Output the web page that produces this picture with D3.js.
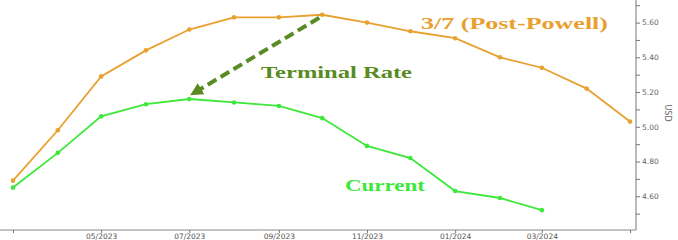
<!DOCTYPE html>
<html>
<head>
<meta charset="utf-8">
<script src="https://cdn.jsdelivr.net/npm/d3@7/dist/d3.min.js"></script>
<style>
  body { margin: 0; background: #fff; }
  svg { display: block; }
</style>
</head>
<body>
<svg width="678" height="240"></svg>
<script>
// monthly contract dates (first of month)
var months = ["2023-03", "2023-04", "2023-05", "2023-06", "2023-07", "2023-08", "2023-09",
  "2023-10", "2023-11", "2023-12", "2024-01", "2024-02", "2024-03", "2024-04", "2024-05"];
var postPowell = [4.69, 4.98, 5.29, 5.44, 5.56, 5.63, 5.63, 5.645, 5.60, 5.55, 5.51, 5.40, 5.34, 5.22, 5.03];
var current = [4.65, 4.85, 5.06, 5.13, 5.16, 5.14, 5.12, 5.05, 4.89, 4.82, 4.63, 4.59, 4.52];
var xTickLabels = ["03/2023", "05/2023", "07/2023", "09/2023", "11/2023", "01/2024", "03/2024", "05/2024"];
var yTicks = [4.5, 4.6, 4.7, 4.8, 4.9, 5.0, 5.1, 5.2, 5.3, 5.4, 5.5, 5.6, 5.7];

var parse = d3.timeParse("%Y-%m");
var parseLabel = d3.timeParse("%m/%Y");

var svg = d3.select("svg"),
    axisX = 636,
    axisY = 230;

var x = d3.scaleTime()
    .domain([parse("2023-03"), parse("2024-05")])
    .range([13, 630]);

var y = d3.scaleLinear()
    .domain([4.40, 5.73])
    .range([231, 0]);

var line = d3.line()
    .x(function (d) { return x(d.date); })
    .y(function (d) { return y(d.value); });

function toPoints(vals) {
    return vals.map(function (v, i) { return {date: parse(months[i]), value: v}; });
}

// axes
var yAxis = svg.append("g")
    .attr("transform", "translate(" + axisX + ",0)")
    .call(d3.axisRight(y).tickValues(yTicks).tickSize(4).tickPadding(2)
        .tickFormat(function (d) { return Math.round(d * 10) % 2 === 0 ? d3.format(".2f")(d) : ""; }));
yAxis.select(".domain").attr("d", "M0,0V" + axisY).attr("stroke", "#777");
yAxis.selectAll(".tick line").attr("stroke", "#777");
yAxis.selectAll(".tick text").attr("fill", "#666").style("font-family", "DejaVu Sans").style("font-size", "7.5px");

var xAxis = svg.append("g")
    .attr("transform", "translate(0," + axisY + ")")
    .call(d3.axisBottom(x).tickValues(xTickLabels.map(parseLabel)).tickSize(3).tickPadding(1)
        .tickFormat(function (d, i) { return (i === 0 || i === xTickLabels.length - 1) ? "" : xTickLabels[i]; }));
xAxis.select(".domain").attr("d", "M0,0H" + axisX).attr("stroke", "#888");
xAxis.selectAll(".tick line").attr("stroke", "#777");
xAxis.selectAll(".tick text").attr("fill", "#555").style("font-family", "DejaVu Sans").style("font-size", "7.5px");

svg.append("text")
    .attr("transform", "translate(665,113) rotate(90)")
    .attr("text-anchor", "middle")
    .attr("fill", "#666")
    .style("font-family", "DejaVu Sans")
    .style("font-size", "8px")
    .text("USD");

// series
var series = [
    {vals: postPowell, color: "#e8a02e"},
    {vals: current, color: "#3de83a"}
];
series.forEach(function (s) {
    var pts = toPoints(s.vals);
    svg.append("path")
        .datum(pts)
        .attr("fill", "none")
        .attr("stroke", s.color)
        .attr("stroke-width", 1.8)
        .attr("d", line);
    svg.selectAll(null)
        .data(pts)
        .enter().append("circle")
        .attr("cx", function (d) { return x(d.date); })
        .attr("cy", function (d) { return y(d.value); })
        .attr("r", 2.3)
        .attr("fill", s.color);
});

// arrow from post-powell peak to current peak
svg.append("defs").append("marker")
    .attr("id", "head")
    .attr("viewBox", "0 0 10 10")
    .attr("refX", 8).attr("refY", 5)
    .attr("markerWidth", 3.2).attr("markerHeight", 3.2)
    .attr("orient", "auto")
    .append("path")
    .attr("d", "M0,0L10,5L0,10Z")
    .attr("fill", "#5a8a22");

var from = {date: parse("2023-10"), value: 5.645},
    to = {date: parse("2023-07"), value: 5.16};
svg.append("line")
    .attr("x1", x(from.date) - 3).attr("y1", y(from.value) + 3)
    .attr("x2", x(to.date) + 3).attr("y2", y(to.value) - 5)
    .attr("stroke", "#5a8a22")
    .attr("stroke-width", 4)
    .attr("stroke-dasharray", "10,5")
    .attr("marker-end", "url(#head)");

// annotations
function label(txt, cx, cy, color, size, len) {
    svg.append("text")
        .attr("x", cx).attr("y", cy)
        .attr("fill", color)
        .attr("textLength", len)
        .attr("lengthAdjust", "spacingAndGlyphs")
        .style("font-family", "Liberation Serif")
        .style("font-weight", "bold")
        .style("font-size", size + "px")
        .text(txt);
}
label("3/7 (Post-Powell)", 421, 29, "#e8a02e", 17, 187);
label("Terminal Rate", 261, 78, "#5a8a22", 16, 151);
label("Current", 345, 191, "#3de83a", 16, 80);
</script>
</body>
</html>
